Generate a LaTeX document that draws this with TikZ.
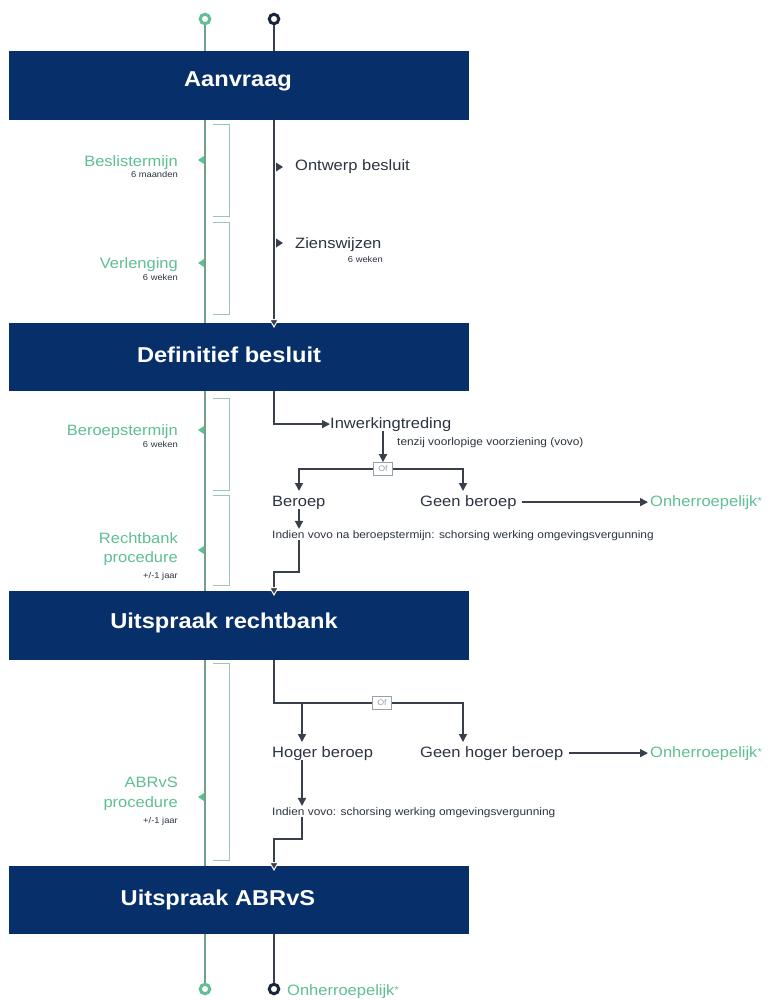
\documentclass[tikz,border=0pt]{standalone}
\usepackage{fontspec}
\setmainfont{Liberation Sans}[FakeStretch=1.1]
\usetikzlibrary{arrows.meta}
\definecolor{barblue}{HTML}{07306A}
\definecolor{mint}{HTML}{5FBF92}
\definecolor{gline}{HTML}{74A08B}
\definecolor{gbrack}{HTML}{9CC7B0}
\definecolor{nline}{HTML}{3A404B}
\definecolor{ntext}{HTML}{2C3441}
\definecolor{ofgray}{HTML}{9AA0A8}
\definecolor{ringnavy}{HTML}{1C2540}
\begin{document}
\begin{tikzpicture}[x=1pt,y=-1pt,
  bar/.style={fill=barblue, draw=none, anchor=north west, minimum width=460pt, inner sep=0},
  bartext/.style={text=white, font=\fontsize{21.5}{24}\selectfont\bfseries, anchor=base, inner sep=0},
  mid/.style={text=ntext, font=\fontsize{15}{18}\selectfont, inner sep=0, anchor=base west},
  gmid/.style={text=mint, font=\fontsize{15}{18}\selectfont, inner sep=0, anchor=base east},
  gsmall/.style={text=ntext, font=\fontsize{8.5}{10}\selectfont, inner sep=0, anchor=base east},
  capt/.style={text=ntext, font=\fontsize{10.8}{12}\selectfont, inner sep=0, anchor=base west},
  onh/.style={text=mint, font=\fontsize{15}{18}\selectfont, inner sep=0, anchor=base west},
  gl/.style={draw=gline, line width=1.3pt},
  nl/.style={draw=nline, line width=1.5pt},
  arr/.style={-{Triangle[length=8pt,width=8pt]}},
  barr/.style={-{Triangle[length=9pt,width=10pt,color=white,fill=nline,line width=1pt]}},
  brack/.style={draw=gbrack, line width=1pt},
  ofbox/.style={draw=ofgray, fill=white, line width=0.7pt, minimum width=19pt, minimum height=13pt, inner sep=0, text=ofgray, font=\fontsize{8}{9}\selectfont},
  ring/.style={circle, line width=3pt, fill=white, minimum size=9.5pt, inner sep=0},
]
\useasboundingbox[fill=white] (0,0) rectangle (771,1000);

% bars
\node[bar, minimum height=69pt] (b1) at (9,51) {};
\node[bar, minimum height=68pt] (b2) at (9,323) {};
\node[bar, minimum height=69pt] (b3) at (9,591) {};
\node[bar, minimum height=68pt] (b4) at (9,866) {};
\node[bartext] (t1) at (238,87) {Aanvraag};
\node[bartext] (t2) at (229,362) {Definitief besluit};
\node[bartext] (t3) at (224,628) {Uitspraak rechtbank};
\node[bartext] (t4) at (218,905) {Uitspraak ABRvS};

% line x positions
\coordinate (gx) at (205,0);
\coordinate (nx) at (274,0);

% rings
\node[ring, draw=mint] (gt) at (205,19) {};
\node[ring, draw=ringnavy] (nt) at (274,19) {};
\node[ring, draw=mint] (gb2) at (205,989) {};
\node[ring, draw=ringnavy] (nb2) at (274,989) {};
\node[onh] (onh3) at (287,995) {Onherroepelijk\raisebox{2pt}{\fontsize{10}{10}\selectfont *}};

% green timeline
\draw[gl] (gt.south) -- (b1.north -| gx);
\draw[gl] (b1.south -| gx) -- (b2.north -| gx);
\draw[gl] (b2.south -| gx) -- (b3.north -| gx);
\draw[gl] (b3.south -| gx) -- (b4.north -| gx);
\draw[gl] (b4.south -| gx) -- (gb2.north);

% brackets
\draw[brack] (213,125) -- (229,125) -- (229,217) -- (213,217);
\draw[brack] (213,223) -- (229,223) -- (229,314) -- (213,314);
\draw[brack] (213,398) -- (229,398) -- (229,490) -- (213,490);
\draw[brack] (213,495) -- (229,495) -- (229,585) -- (213,585);
\draw[brack] (213,663) -- (229,663) -- (229,860) -- (213,860);

% green side texts and markers
\node[gmid] (g1) at (178,167) {Beslistermijn};
\node[gsmall] (g1s) at (178,178) {6 maanden};
\node[gmid] (g2) at (178,268) {Verlenging};
\node[gsmall] (g2s) at (178,280) {6 weken};
\node[gmid] (g3) at (178,435) {Beroepstermijn};
\node[gsmall] (g3s) at (178,447) {6 weken};
\node[gmid] (g4a) at (178,543) {Rechtbank};
\node[gmid] (g4b) at (178,562) {procedure};
\node[gsmall] (g4s) at (178,578) {+/-1 jaar};
\node[gmid] (g5a) at (178,787) {ABRvS};
\node[gmid] (g5b) at (178,807) {procedure};
\node[gsmall] (g5s) at (178,823) {+/-1 jaar};
\fill[mint] (204,156) -- (198,160) -- (204,164) -- cycle;
\fill[mint] (204,259) -- (198,263) -- (204,267) -- cycle;
\fill[mint] (204,426) -- (198,430) -- (204,434) -- cycle;
\fill[mint] (204,546) -- (198,550) -- (204,554) -- cycle;
\fill[mint] (204,793) -- (198,797) -- (204,801) -- cycle;

% navy timeline
\draw[nl] (nt.south) -- (b1.north -| nx);
\draw[nl] (b4.south -| nx) -- (nb2.north);

% section 1
\draw[nl, barr] (b1.south -| nx) -- ([yshift=-5pt]b2.north -| nx);
\fill[nline] (276,162.5) -- (283,167) -- (276,171.5) -- cycle;
\fill[nline] (276,238.5) -- (283,243) -- (276,247.5) -- cycle;
\node[mid] (ob) at (295,171) {Ontwerp besluit};
\node[mid] (zw) at (295,248) {Zienswijzen};
\node[gsmall] (zws) at (383,262) {6 weken};

% section 2
\node[mid] (inw) at (330,428) {Inwerkingtreding};
\draw[nl, arr] (b2.south -| nx) |- (inw.west);
\node[capt] (tz) at (397,445) {tenzij voorlopige voorziening (vovo)};
\node[ofbox] (of1) at (383,469) {Of};
\draw[nl, arr] (inw.south -| of1) -- (of1.north);
\node[mid] (ber) at (272,506) {Beroep};
\node[mid] (gber) at (420,506) {Geen beroep};
\node[onh] (onh1) at (650,506) {Onherroepelijk\raisebox{2pt}{\fontsize{10}{10}\selectfont *}};
\coordinate (bx) at (299,491);
\coordinate (gbx) at (463,491);
\draw[nl, arr] (of1.west) -| (bx);
\draw[nl, arr] (of1.east) -| (gbx);
\draw[nl, arr] ([xshift=5pt]gber.east) -- ([xshift=-2pt]onh1.west);
\node[capt] (ind1) at (272,538) {Indien vovo na beroepstermijn: schorsing werking omgevingsvergunning};
\draw[nl, arr] (bx |- ber.south) -- ([yshift=1pt]bx |- ind1.north);
\coordinate (k1) at (0,572);
\draw[nl, barr] (bx |- ind1.south) -- (bx |- k1) -- (k1 -| nx) -- ([yshift=-5pt]b3.north -| nx);

% section 3
\node[ofbox] (of2) at (382,703) {Of};
\draw[nl] (b3.south -| nx) |- (of2.west);
\coordinate (hbx) at (302,742);
\coordinate (ghx) at (463,742);
\draw[nl, arr] (of2.east) -| (ghx);
\draw[nl, arr] (hbx |- of2) -- (hbx);
\node[mid] (hb) at (272,757) {Hoger beroep};
\node[mid] (ghb) at (420,757) {Geen hoger beroep};
\node[onh] (onh2) at (650,757) {Onherroepelijk\raisebox{2pt}{\fontsize{10}{10}\selectfont *}};
\draw[nl, arr] ([xshift=5pt]ghb.east) -- ([xshift=-2pt]onh2.west);
\node[capt] (ind2) at (272,815) {Indien vovo: schorsing werking omgevingsvergunning};
\draw[nl, arr] (hbx |- hb.south) -- ([yshift=1pt]hbx |- ind2.north);
\coordinate (k2) at (0,839);
\draw[nl, barr] (hbx |- ind2.south) -- (hbx |- k2) -- (k2 -| nx) -- ([yshift=-5pt]b4.north -| nx);
\end{tikzpicture}
\end{document}
